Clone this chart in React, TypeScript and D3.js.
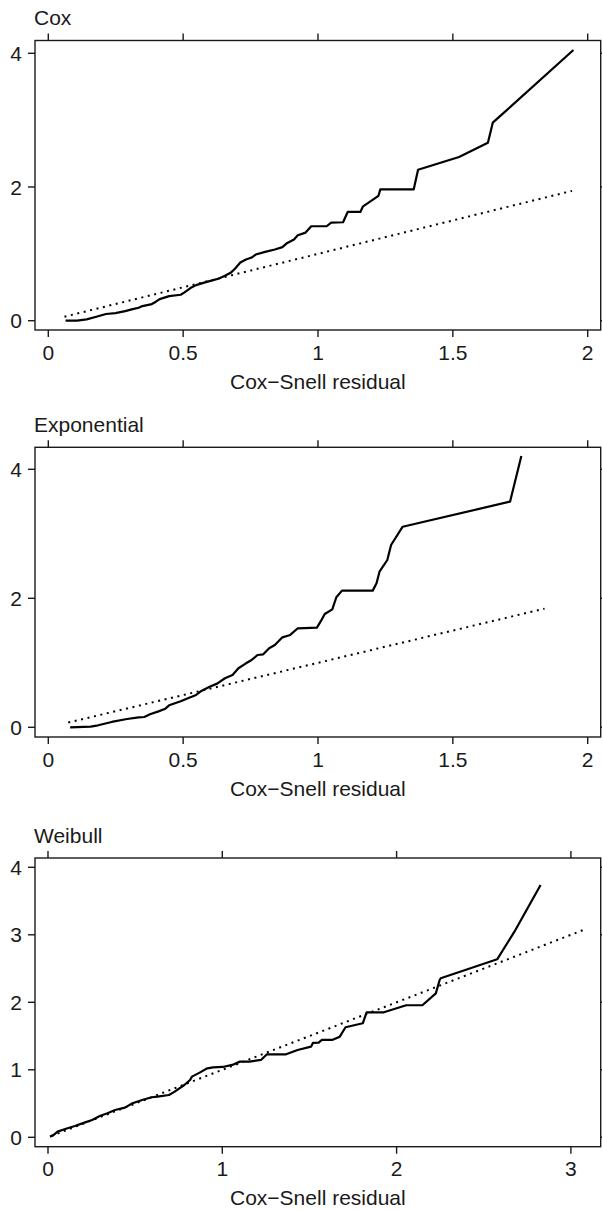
import React from "react";
import * as d3 from "d3";

type Pt = [number, number];

const panelTitles = ["Cox", "Exponential", "Weibull"];
const xAxisTitle = "Cox\u2212Snell residual";

const xTicksA = [0, 0.5, 1, 1.5, 2];
const xTicksB = [0, 1, 2, 3];
const yTicksA = [0, 2, 4];
const yTicksB = [0, 1, 2, 3, 4];

// Nelson–Aalen cumulative hazard of Cox–Snell residuals
const coxCurve: Pt[] = [
  [0.064, 0], [0.107, 0], [0.142, 0.02], [0.178, 0.06], [0.214, 0.1], [0.249, 0.114],
  [0.285, 0.144], [0.313, 0.174], [0.335, 0.194], [0.349, 0.219], [0.384, 0.249],
  [0.399, 0.284], [0.413, 0.323], [0.448, 0.368], [0.491, 0.388], [0.505, 0.423],
  [0.527, 0.488], [0.548, 0.532], [0.584, 0.577], [0.612, 0.607], [0.633, 0.632],
  [0.655, 0.672], [0.676, 0.716], [0.693, 0.781], [0.712, 0.871], [0.733, 0.915],
  [0.754, 0.945], [0.769, 0.99], [0.804, 1.03], [0.84, 1.065], [0.868, 1.1],
  [0.883, 1.154], [0.911, 1.214], [0.925, 1.279], [0.954, 1.318], [0.975, 1.413],
  [1.032, 1.413], [1.049, 1.468], [1.093, 1.473], [1.11, 1.627], [1.157, 1.627],
  [1.167, 1.711], [1.189, 1.771], [1.224, 1.866], [1.231, 1.965], [1.355, 1.965],
  [1.371, 2.259], [1.523, 2.448], [1.63, 2.662], [1.648, 2.962], [1.947, 4.05],
];
const coxRef: Pt[] = [[0.06, 0.06], [1.942, 1.942]];

const expCurve: Pt[] = [
  [0.081, 0], [0.157, 0.01], [0.185, 0.031], [0.235, 0.083], [0.292, 0.129],
  [0.335, 0.155], [0.356, 0.16], [0.377, 0.202], [0.406, 0.243], [0.434, 0.289],
  [0.448, 0.341], [0.491, 0.403], [0.52, 0.455], [0.548, 0.501], [0.569, 0.568],
  [0.598, 0.63], [0.626, 0.677], [0.655, 0.76], [0.683, 0.811], [0.705, 0.915],
  [0.733, 0.992], [0.754, 1.044], [0.776, 1.121], [0.797, 1.132], [0.819, 1.225],
  [0.84, 1.276], [0.868, 1.395], [0.897, 1.432], [0.925, 1.535], [0.996, 1.545],
  [1.011, 1.649], [1.025, 1.757], [1.053, 1.829], [1.068, 2.016], [1.089, 2.119],
  [1.203, 2.119], [1.217, 2.233], [1.228, 2.412], [1.257, 2.594], [1.271, 2.826],
  [1.314, 3.11], [1.712, 3.498], [1.754, 4.206],
];
const expRef: Pt[] = [[0.074, 0.074], [1.84, 1.84]];

const weiCurve: Pt[] = [
  [0.011, 0.01], [0.033, 0.035], [0.055, 0.084], [0.099, 0.123], [0.154, 0.168],
  [0.209, 0.217], [0.253, 0.257], [0.297, 0.316], [0.341, 0.356], [0.385, 0.405],
  [0.441, 0.44], [0.485, 0.504], [0.54, 0.553], [0.595, 0.593], [0.628, 0.602],
  [0.694, 0.627], [0.727, 0.677], [0.782, 0.775], [0.815, 0.849], [0.826, 0.899],
  [0.87, 0.958], [0.914, 1.022], [0.947, 1.037], [1.002, 1.042], [1.057, 1.072],
  [1.101, 1.121], [1.156, 1.121], [1.222, 1.146], [1.256, 1.23], [1.366, 1.23],
  [1.432, 1.294], [1.509, 1.343], [1.52, 1.398], [1.553, 1.402], [1.57, 1.442],
  [1.63, 1.442], [1.674, 1.491], [1.707, 1.63], [1.806, 1.689], [1.828, 1.852],
  [1.927, 1.852], [2.055, 1.956], [2.148, 1.956], [2.225, 2.133], [2.247, 2.331],
  [2.253, 2.356], [2.577, 2.637], [2.676, 3.046], [2.826, 3.738],
];
const weiRef: Pt[] = [[0.02, 0.02], [3.07, 3.07]];

const FONT = "'Liberation Sans', Arial, Helvetica, sans-serif";
const FS = 21;
const INK = "#1a1a1a";

interface PanelProps {
  title: string;
  curve: Pt[];
  refLine: Pt[];
  xTicks: number[];
  yTicks: number[];
  xDomain: [number, number];
  xRange: [number, number];
  yDomain: [number, number];
  yRange: [number, number];
  frame: { left: number; right: number; top: number; bottom: number };
}

function Panel(p: PanelProps) {
  const x = d3.scaleLinear().domain(p.xDomain).range(p.xRange);
  const y = d3.scaleLinear().domain(p.yDomain).range(p.yRange);
  const line = d3
    .line<Pt>()
    .x((d) => x(d[0]))
    .y((d) => y(d[1]));
  const { left, right, top, bottom } = p.frame;
  const tl = 7;
  return (
    <g>
      <text x={left - 1} y={top - 15.5} fontFamily={FONT} fontSize={FS} fill={INK}>
        {p.title}
      </text>
      <rect
        x={left}
        y={top}
        width={right - left}
        height={bottom - top}
        fill="none"
        stroke={INK}
        strokeWidth={1.4}
      />
      {p.xTicks.map((t) => (
        <g key={"x" + t}>
          <line x1={x(t)} x2={x(t)} y1={bottom} y2={bottom + tl} stroke={INK} strokeWidth={1.4} />
          <line x1={x(t)} x2={x(t)} y1={top} y2={top - tl} stroke={INK} strokeWidth={1.4} />
          <text
            x={x(t)}
            y={bottom + 29.5}
            textAnchor="middle"
            fontFamily={FONT}
            fontSize={FS}
            fill={INK}
          >
            {String(t)}
          </text>
        </g>
      ))}
      {p.yTicks.map((t) => (
        <g key={"y" + t}>
          <line x1={left} x2={left - tl} y1={y(t)} y2={y(t)} stroke={INK} strokeWidth={1.4} />
          <line x1={right} x2={right + tl} y1={y(t)} y2={y(t)} stroke={INK} strokeWidth={1.4} />
          <text
            x={left - 13}
            y={y(t)}
            dy="0.36em"
            textAnchor="end"
            fontFamily={FONT}
            fontSize={FS}
            fill={INK}
          >
            {String(t)}
          </text>
        </g>
      ))}
      <path
        d={line(p.refLine) || ""}
        fill="none"
        stroke="#000"
        strokeWidth={2}
        strokeDasharray="2,4.6"
      />
      <path
        d={line(p.curve) || ""}
        fill="none"
        stroke="#000"
        strokeWidth={2.2}
        strokeLinejoin="round"
      />
      <text
        x={(left + right) / 2}
        y={bottom + 58.5}
        textAnchor="middle"
        fontFamily={FONT}
        fontSize={FS}
        fill={INK}
      >
        {xAxisTitle}
      </text>
    </g>
  );
}

export default function App() {
  return (
    <svg
      width={602}
      height={1210}
      style={{ position: "absolute", left: 0, top: 0, background: "#fff" }}
    >
      <rect x={0} y={0} width={602} height={1210} fill="#fff" />
      <Panel
        title={panelTitles[0]}
        curve={coxCurve}
        refLine={coxRef}
        xTicks={xTicksA}
        yTicks={yTicksA}
        xDomain={[0, 2]}
        xRange={[48.3, 587.7]}
        yDomain={[0, 4]}
        yRange={[320.7, 53.3]}
        frame={{ left: 35, right: 600.7, top: 40.5, bottom: 330 }}
      />
      <Panel
        title={panelTitles[1]}
        curve={expCurve}
        refLine={expRef}
        xTicks={xTicksA}
        yTicks={yTicksA}
        xDomain={[0, 2]}
        xRange={[48.3, 587.7]}
        yDomain={[0, 4]}
        yRange={[727.3, 469.3]}
        frame={{ left: 35, right: 600.7, top: 447.3, bottom: 737 }}
      />
      <Panel
        title={panelTitles[2]}
        curve={weiCurve}
        refLine={weiRef}
        xTicks={xTicksB}
        yTicks={yTicksB}
        xDomain={[0, 3]}
        xRange={[48, 570.9]}
        yDomain={[0, 4]}
        yRange={[1137.3, 867.3]}
        frame={{ left: 35, right: 600.7, top: 858, bottom: 1146.7 }}
      />
    </svg>
  );
}
